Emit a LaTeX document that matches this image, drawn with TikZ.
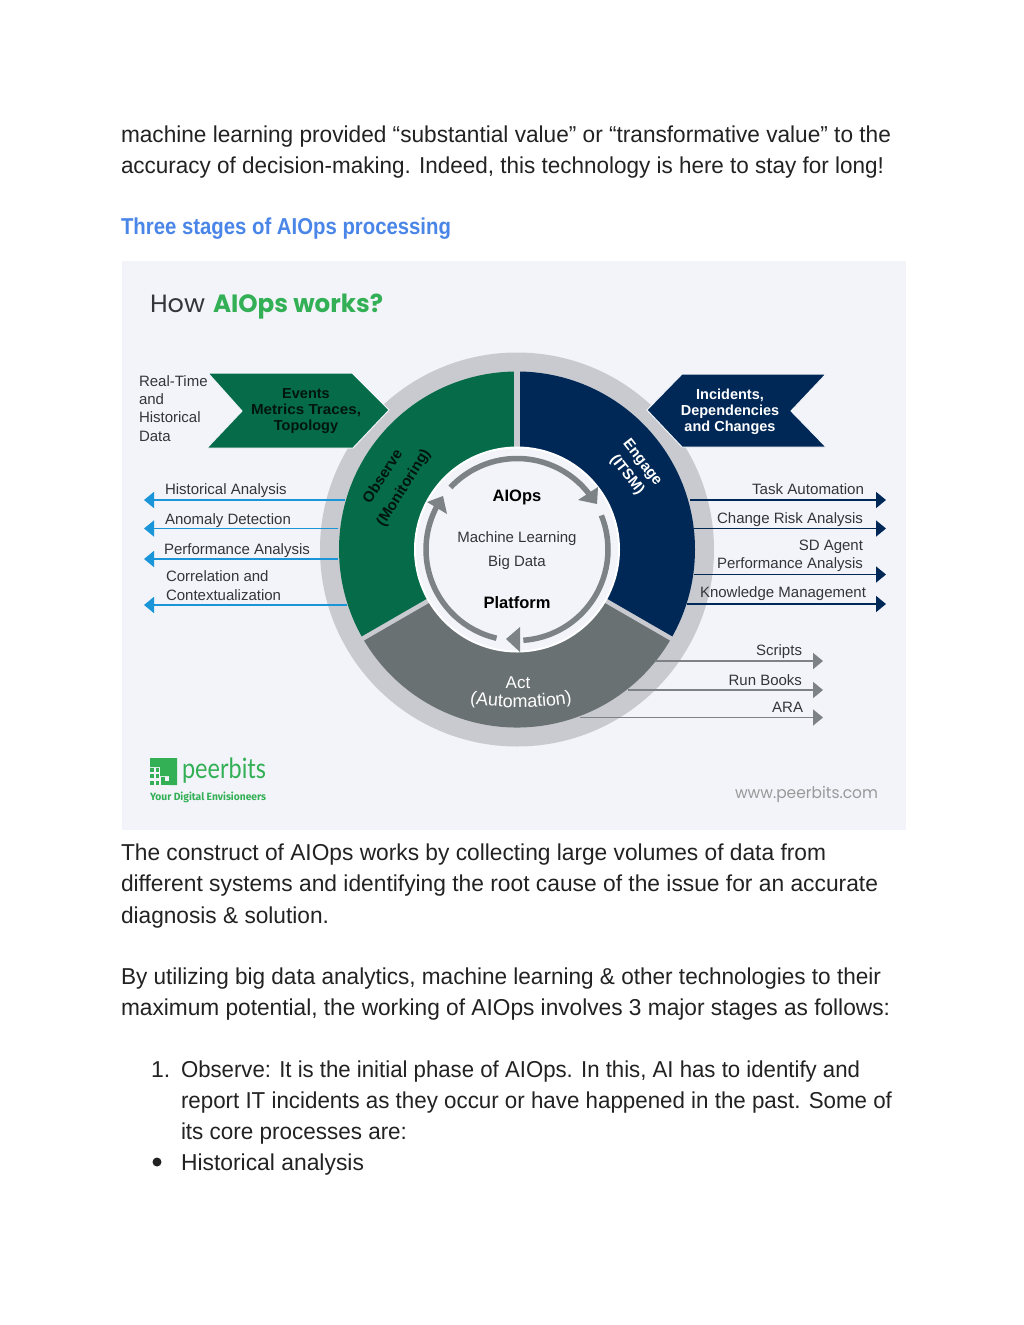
\documentclass[tikz,border=0pt]{standalone}
\usepackage{fontspec}
\usepackage{graphicx}
\setmainfont{Liberation Sans}
\newfontfamily\popfont{Poppins}
\newfontfamily\firafont{Fira Sans}
\newfontfamily\latofont{Lato}
\usetikzlibrary{arrows.meta,decorations.text}
\definecolor{panelbg}{HTML}{F2F4FA}
\definecolor{ringc}{HTML}{C8CACF}
\definecolor{greenc}{HTML}{056B49}
\definecolor{navyc}{HTML}{002856}
\definecolor{grayc}{HTML}{6A7173}
\definecolor{cyanc}{HTML}{1A95D8}
\definecolor{arrowg}{HTML}{7C8285}
\definecolor{brandg}{HTML}{33B055}
\definecolor{linkc}{HTML}{4A86E8}
\definecolor{bodyc}{HTML}{222222}
\definecolor{labc}{HTML}{333639}
\newcommand{\fitw}[2]{\resizebox{#1pt}{\height}{#2}}
\newcommand{\fsz}[1]{\fontsize{#1}{#1}\selectfont}
\tikzset{
  x=1pt,y=1pt,
  every node/.style={inner sep=0pt,outer sep=0pt},
  bodytxt/.style={anchor=base west,text=bodyc,font=\fsz{23}},
  lablft/.style={anchor=base west,text=labc,font=\fsz{15}},
  labrgt/.style={anchor=base east,text=labc,font=\fsz{15}},
  ctr/.style={anchor=base,font=\fsz{15},text=labc},
  bnr/.style={anchor=base,font=\fsz{14.5}\bfseries},
  ringtxt/.style={font=\fsz{15}\bfseries},
  cyanarrow/.style={draw=cyanc,line width=1.7pt,-{Triangle[length=10pt,width=16pt,fill=cyanc]}},
  navyarrow/.style={draw=navyc,line width=1.6pt,-{Triangle[length=10pt,width=16pt,fill=navyc]}},
  grayarrow/.style={draw=arrowg,line width=1.9pt,-{Triangle[length=10pt,width=16pt,fill=arrowg]}},
  cyclearc/.style={draw=arrowg,line width=5.5pt},
  cyclehead/.style={fill=arrowg}
}
\begin{document}
\begin{tikzpicture}
\useasboundingbox (0,0) rectangle (1024,-1325);
\fill[white] (0,0) rectangle (1024,-1325);
% body text
\node[bodytxt] (t1) at (121,-142) {\fitw{770}{machine learning provided “substantial value” or “transformative value” to the}};
\node[bodytxt] (t2) at (121,-173) {\fitw{763}{accuracy of decision-making. Indeed, this technology is here to stay for long!}};
\node[bodytxt,text=linkc,font=\fsz{23}\bfseries] (t3) at (121,-234) {\fitw{330}{Three stages of AIOps processing}};
\node[bodytxt] (t4) at (121,-860) {\fitw{705}{The construct of AIOps works by collecting large volumes of data from}};
\node[bodytxt] (t5) at (121,-891) {\fitw{757}{different systems and identifying the root cause of the issue for an accurate}};
\node[bodytxt] (t6) at (121,-923) {\fitw{208}{diagnosis \& solution.}};
\node[bodytxt] (t7) at (121,-984) {\fitw{760}{By utilizing big data analytics, machine learning \& other technologies to their}};
\node[bodytxt] (t8) at (121,-1015) {\fitw{769}{maximum potential, the working of AIOps involves 3 major stages as follows:}};
\node[bodytxt] (n1) at (151,-1077) {1.};
\node[bodytxt] (t9) at (181,-1077) {\fitw{679}{Observe: It is the initial phase of AIOps. In this, AI has to identify and}};
\node[bodytxt] (t10) at (181,-1108) {\fitw{711}{report IT incidents as they occur or have happened in the past. Some of}};
\node[bodytxt] (t11) at (181,-1139) {\fitw{226}{its core processes are:}};
\node[circle,fill=bodyc,minimum size=9pt] (bul) at (157,-1162) {};
\node[bodytxt] (t12) at (181,-1170) {\fitw{183}{Historical analysis}};
% panel
\fill[panelbg] (122,-261) rectangle (906,-830);
\node[anchor=base west,font=\popfont\fsz{25},text=labc] (title) at (150,-312) {\fitw{55}{How}};
\node[anchor=base west,font=\popfont\fsz{25}\bfseries,text=brandg] (title2) at (213,-312) {\fitw{170}{AIOps works?}};
% ring
\begin{scope}[shift={(517,-549.5)}]
\fill[ringc] (0,0) circle (197);
\fill[greenc] (90:102) -- (90:178) arc[start angle=90,end angle=210,radius=178] -- (210:102) -- cycle;
\fill[navyc] (90:102) -- (90:178) arc[start angle=90,end angle=-30,radius=178] -- (-30:102) -- cycle;
\fill[grayc] (-30:102) -- (-30:178) arc[start angle=-30,end angle=-150,radius=178] -- (-150:102) -- cycle;
\draw[ringc,line width=6pt] (90:100) -- (90:181);
\draw[ringc,line width=4.5pt] (210:100) -- (210:180);
\draw[ringc,line width=4.5pt] (-30:100) -- (-30:180);
\fill[panelbg,draw=white,line width=2pt] (0,0) circle (102);
\draw[cyclearc] (137:91) arc[start angle=137,end angle=37,radius=91];
\draw[cyclearc] (22:91) arc[start angle=22,end angle=-86,radius=91];
\draw[cyclearc] (-103:91) arc[start angle=-103,end angle=-208,radius=91];
\end{scope}
\fill[cyclehead] (598,-487) -- (578,-500) -- (597,-504) -- cycle;
\fill[cyclehead] (520,-627) -- (520,-652) -- (506,-639) -- cycle;
\fill[cyclehead] (427,-502) -- (447,-514) -- (443,-496) -- cycle;
% banners
\fill[greenc,draw=panelbg,line width=1pt] (208,-373) -- (352,-373) -- (389,-410) -- (353,-448) -- (207,-448) -- (242,-411) -- cycle;
\fill[navyc,draw=panelbg,line width=1pt] (647,-410) -- (682,-374) -- (826,-374) -- (791,-411) -- (826,-447) -- (682,-447) -- cycle;
\node[bnr,text=black!80!greenc] (b1) at (306,-398.5) {Events};
\node[bnr,text=black!80!greenc] (b2) at (306,-414) {\fitw{110}{Metrics Traces,}};
\node[bnr,text=black!80!greenc] (b3) at (306,-430) {Topology};
\node[bnr,text=white] (b4) at (730,-399) {Incidents,};
\node[bnr,text=white] (b5) at (730,-415) {Dependencies};
\node[bnr,text=white] (b6) at (730,-431) {and Changes};
\node[lablft] (r1) at (139,-386) {Real-Time};
\node[lablft] (r2) at (139,-404) {and};
\node[lablft] (r3) at (139,-422) {Historical};
\node[lablft] (r4) at (139,-441) {Data};
% ring labels
\node[rotate=57,ringtxt,text=black!80!greenc] (obs) at (382,-476) {Observe};
\node[rotate=58,ringtxt,text=black!80!greenc] (mon) at (404,-488) {(Monitoring)};
\node[rotate=-52,ringtxt,text=white] (eng) at (642,-463) {Engage};
\node[rotate=-52,ringtxt,text=white] (itsm) at (627,-475) {(ITSM)};
\node[ctr,text=white,font=\fsz{17}] (act) at (518,-688) {Act};
\path[decorate,decoration={text along path,text align=center,text={|\fsz{18}\color{white}|(Automation)}}] (467,-703) .. controls (500,-709) and (540,-709) .. (575,-702);
% centre
\node[ctr,text=black,font=\fsz{16.5}\bfseries] (c1) at (517,-501) {AIOps};
\node[ctr] (c2) at (517,-542) {Machine Learning};
\node[ctr] (c3) at (517,-566) {Big Data};
\node[ctr,text=black,font=\fsz{16.5}\bfseries] (c4) at (517,-608) {Platform};
% left
\node[lablft] (l1) at (165,-494) {Historical Analysis};
\node[lablft] (l2) at (165,-524) {Anomaly Detection};
\node[lablft] (l3) at (164,-554) {Performance Analysis};
\node[lablft] (l4) at (166,-581) {Correlation and};
\node[lablft] (l5) at (166,-600) {Contextualization};
\coordinate (la1) at (345,-500); \coordinate (lb1) at (144,-500);
\coordinate (la2) at (338,-528.5); \coordinate (lb2) at (144,-528.5);
\coordinate (la3) at (338,-559); \coordinate (lb3) at (144,-559);
\coordinate (la4) at (347,-605); \coordinate (lb4) at (144,-605);
\draw[cyanarrow] (la1) -- (lb1);
\draw[cyanarrow] (la2) -- (lb2);
\draw[cyanarrow] (la3) -- (lb3);
\draw[cyanarrow] (la4) -- (lb4);
% right
\node[labrgt] (q1) at (864,-494) {\fitw{112}{Task Automation}};
\node[labrgt] (q2) at (863,-523) {Change Risk Analysis};
\node[labrgt] (q3) at (863,-550) {SD Agent};
\node[labrgt] (q4) at (863,-568) {Performance Analysis};
\node[labrgt] (q5) at (866,-597) {Knowledge Management};
\coordinate (ra1) at (690,-500); \coordinate (rb1) at (886,-500);
\coordinate (ra2) at (694,-528.5); \coordinate (rb2) at (886,-528.5);
\coordinate (ra3) at (694,-574.5); \coordinate (rb3) at (886,-574.5);
\coordinate (ra4) at (687,-604); \coordinate (rb4) at (886,-604);
\draw[navyarrow] (ra1) -- (rb1);
\draw[navyarrow] (ra2) -- (rb2);
\draw[navyarrow] (ra3) -- (rb3);
\draw[navyarrow] (ra4) -- (rb4);
% act
\node[labrgt] (s1) at (802,-655) {Scripts};
\node[labrgt] (s2) at (802,-685) {Run Books};
\node[labrgt] (s3) at (803,-712) {ARA};
\coordinate (sa1) at (655,-661); \coordinate (sb1) at (823,-661);
\coordinate (sa2) at (628,-690); \coordinate (sb2) at (823,-690);
\coordinate (sa3) at (580,-717.5); \coordinate (sb3) at (823,-717.5);
\draw[grayarrow] (sa1) -- (sb1);
\draw[grayarrow] (sa2) -- (sb2);
\draw[grayarrow] (sa3) -- (sb3);
% logo
\fill[brandg] (150,-758) -- (177,-758) -- (177,-785) -- (169,-785) -- (169,-776) -- (160,-776) -- (160,-767) -- (150,-767) -- cycle;
\foreach \px/\py in {150/768,155.5/768,150/774,155.5/774,161/777,150/781,155.5/781,161/781,165/781}
  \fill[brandg] (\px,-\py) rectangle ++(3.5,-3.5);
\node[anchor=base west,font=\latofont\fsz{28},text=brandg] (logo) at (182,-778) {\fitw{84}{peerbits}};
\node[anchor=base west,font=\firafont\fsz{10.5}\bfseries,text=brandg] (tag) at (150,-800) {\fitw{116}{Your Digital Envisioneers}};
\node[anchor=base west,font=\popfont\fsz{16},text=black!40] (web) at (735,-798) {\fitw{143}{www.peerbits.com}};
\end{tikzpicture}
\end{document}
